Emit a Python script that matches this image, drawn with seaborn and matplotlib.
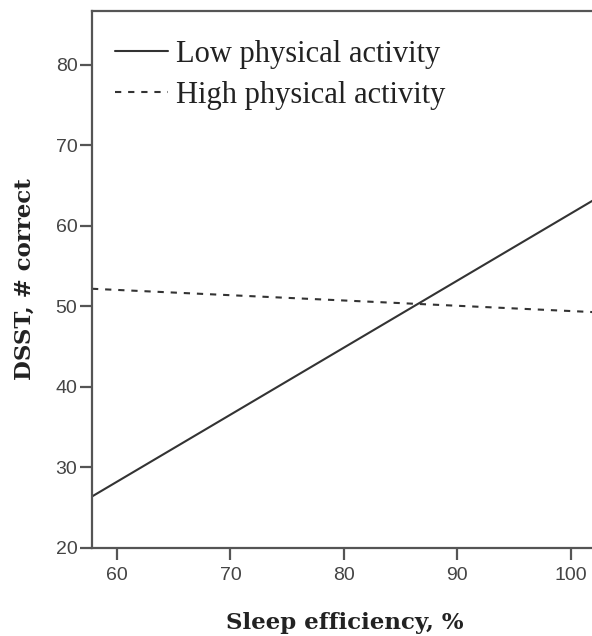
import matplotlib
matplotlib.use("Agg")
import matplotlib.pyplot as plt
import seaborn as sns
import pandas as pd

sleep_eff = [57.8, 102.0]
low_pa = [26.4, 63.2]
high_pa = [52.2, 49.3]
series_names = ["Low physical activity", "High physical activity"]
x_ticks = [60, 70, 80, 90, 100]
y_ticks = [20, 30, 40, 50, 60, 70, 80]

df = pd.DataFrame({
    "x": sleep_eff * 2,
    "y": low_pa + high_pa,
    "group": [series_names[0]] * 2 + [series_names[1]] * 2,
})

sns.set_style("white")
fig = plt.figure(figsize=(5.92, 6.36), dpi=100)
ax = fig.add_axes([92 / 592, 88 / 636, 1.0 - 92 / 592 + 0.01, (548 - 11) / 636])

line_col = "#333333"
sns.lineplot(data=df[df.group == series_names[0]], x="x", y="y", ax=ax,
             color=line_col, lw=1.5, label=series_names[0])
sns.lineplot(data=df[df.group == series_names[1]], x="x", y="y", ax=ax,
             color=line_col, lw=1.5, label=series_names[1], dashes=False)
ax.lines[1].set_dashes((2.2, 6.5))

ax.set_xlim(57.8, 102.4)
ax.set_ylim(20, 86.7)
ax.set_xticks(x_ticks)
ax.set_yticks(y_ticks)

spine_col = "#555555"
for s in ["left", "bottom", "top", "right"]:
    ax.spines[s].set_color(spine_col)
    ax.spines[s].set_linewidth(1.6)
ax.tick_params(axis="both", direction="out", length=8.5, width=1.6, color=spine_col,
               labelsize=14, labelcolor="#444444", bottom=True, left=True)
ax.tick_params(axis="y", pad=2)
ax.tick_params(axis="x", pad=5)
for lab in ax.get_xticklabels() + ax.get_yticklabels():
    lab.set_fontfamily("Liberation Sans")

ax.set_xlabel("Sleep efficiency, %", fontfamily="DejaVu Serif",
              fontweight="bold", fontsize=16.5, labelpad=20, color="#222222")
ax.set_ylabel("DSST, # correct", fontfamily="DejaVu Serif",
              fontweight="bold", fontsize=16.5, labelpad=14, color="#222222")

handles, labels = ax.get_legend_handles_labels()
handles[1].set_dashes((3, 3.3))
leg = ax.legend(handles, labels, loc="upper left", frameon=False,
                prop={"family": "Liberation Serif", "size": 22},
                handlelength=1.73, handletextpad=0.28, labelspacing=0.38,
                borderaxespad=0.0, borderpad=0.0,
                bbox_to_anchor=(23 / 510, 1 - 29 / 537))
for t in leg.get_texts():
    t.set_color("#222222")

fig.savefig("out.png", dpi=100)
